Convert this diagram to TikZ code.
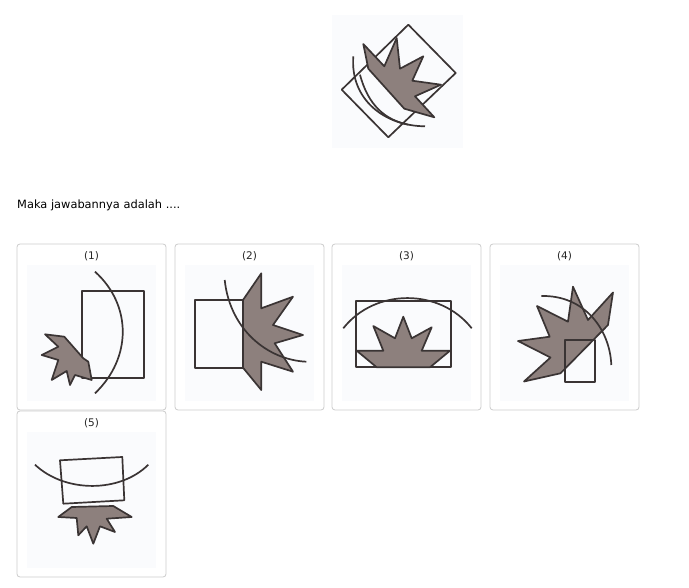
\documentclass[tikz,border=0pt]{standalone}
\usepackage{fontspec}
\setmainfont{DejaVu Sans}
\usepackage{xcolor}
\usetikzlibrary{positioning}
\definecolor{ink}{RGB}{58,52,52}
\definecolor{leafgrey}{RGB}{141,128,125}
\definecolor{panelbg}{RGB}{250,251,253}
\definecolor{framegrey}{RGB}{204,204,204}
\begin{document}
\begin{tikzpicture}[x=1pt,y=-1pt,line join=round,
  outline/.style={draw=ink,line width=1.7pt},
  leaf/.style={outline,fill=leafgrey},
  card/.style={draw=framegrey,line width=0.8pt,rounded corners=3pt,fill=white},
  panel/.style={fill=panelbg,draw=none},
  tag/.style={font=\fontsize{10.5}{12}\selectfont,text=black!85,inner sep=0pt}]
\useasboundingbox[fill=white] (0,0) rectangle (689,588);
% ---- question figure ----
\fill[panelbg] (332,15) rectangle (463,148);
\draw[outline] (408.3,24.7) -- (455.7,73) -- (388.3,137.3) -- (341.7,89.7) -- cycle;
\draw[leaf] (363.3,44) -- (384.3,66.3) -- (396.7,38) -- (400,68.7) -- (423.3,56.3)
  -- (412.3,80.7) -- (441,84.7) -- (415,96.3) -- (434.3,117.3) -- (404.3,108.7)
  -- (368.3,68.7) -- cycle;
\draw[outline] (353.3,56.3) .. controls (350,100) and (385,126) .. (425,126.3);
\draw[outline] (360,74.7) .. controls (368,105) and (385,120) .. (408.3,124.7);
% ---- question text ----
\node[anchor=base west,font=\fontsize{11.4}{13}\selectfont,inner sep=0pt] (ask) at (17,209) {Maka jawabannya adalah ....};
% ---- answer cards ----
\foreach \cx/\cy/\lab in {17/244/1,175/244/2,332/244/3,490/244/4,17/411/5}{
  \draw[card] (\cx,\cy) rectangle ++(149,166);
  \fill[panelbg] (\cx+10,\cy+21) rectangle ++(129,136);
  \node[tag] (opt\lab) at (\cx+74.5,\cy+12) {(\lab)};
}
% (1)
\draw[outline] (82.3,290.7) rectangle (144,378.3);
\draw[outline] (95,271.7) .. controls (132,305) and (132,358) .. (95,393.3);
\draw[leaf] (45,334.3) -- (64.3,336.7) -- (83.3,358.3) -- (88.3,361.7) -- (91.7,380)
  -- (75,375) -- (70,385) -- (66.7,371) -- (51.7,380) -- (58.3,360) -- (41.7,355)
  -- (58.3,346.7) -- cycle;
% (2)
\draw[outline] (194.7,300) rectangle (243,367.7);
\draw[leaf] (243,300) -- (261.3,273.3) -- (261.3,308.3) -- (293,296.7) -- (273,325)
  -- (303,335) -- (274.7,343.3) -- (293,371.7) -- (261.3,361.7) -- (261.3,390)
  -- (243,367.7) -- cycle;
\draw[outline] (224.7,280) .. controls (230,330) and (268,360) .. (306.3,361.7);
% (3)
\draw[outline] (355.7,300.7) rectangle (450.7,367.3);
\draw[outline] (343.3,328.3) .. controls (375,288) and (440,288) .. (471.7,328.3);
\draw[leaf] (356.7,350.7) -- (383.3,350.7) -- (373.3,326) -- (395,338.3) -- (403.3,316.7)
  -- (411.7,338.3) -- (431.7,327.3) -- (421.7,350.7) -- (450,350.7) -- (430,367.3)
  -- (376.7,367.3) -- cycle;
% (4)
\draw[leaf] (518,341) -- (549.7,336.7) -- (537,306) -- (568,321.7) -- (573,286.7)
  -- (588,320) -- (613,292.5) -- (608,325) -- (560.5,373.3) -- (524,381.5)
  -- (550.5,357.5) -- cycle;
\draw[outline] (565.3,340) rectangle (594.7,382.3);
\draw[outline] (541.3,296) .. controls (585,295) and (610,330) .. (611.3,365);
% (5)
\draw[outline] (60,460.3) -- (122.3,457) -- (124.3,500.3) -- (63.3,503.7) -- cycle;
\draw[outline] (35,464.7) .. controls (65,493) and (120,493) .. (148.3,464.7);
\draw[leaf] (71.7,507) -- (113.3,506) -- (131.7,517) -- (106.7,518.7) -- (115,532)
  -- (100,526.3) -- (93.3,543.7) -- (86.7,526.3) -- (78.3,535.3) -- (76.7,518)
  -- (58.3,517) -- cycle;
\end{tikzpicture}
\end{document}
